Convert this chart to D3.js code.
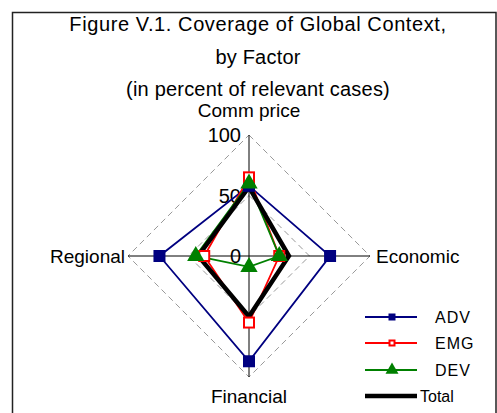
<!DOCTYPE html>
<html>
<head>
<meta charset="utf-8">
<script src="https://cdn.jsdelivr.net/npm/d3@7"></script>
<style>
  body { margin: 0; background: #fff; }
  text { font-family: Arial, "Liberation Sans", sans-serif; fill: #000; }
</style>
</head>
<body>
<svg id="chart" width="497" height="413"></svg>
<script>
// data (percent of relevant cases)
var factors = ["Comm price", "Economic", "Financial", "Regional"];
var adv   = [58, 67, 87, 74];
var emg   = [65, 25, 55, 37];
var dev   = [60, 25,  9, 44];
var total = [57, 33, 50, 42];
var ticks = [0, 50, 100];
var titleLines = ["Figure V.1. Coverage of Global Context,", "by Factor", "(in percent of relevant cases)"];

var svg = d3.select("#chart");
var cx = 249, cy = 256, R = 121;

var r = d3.scaleLinear().domain([0, 100]).range([0, R]);
var ang = d3.scaleLinear().domain([0, factors.length]).range([0, 2 * Math.PI]);

function px(i, v) { return cx + r(v) * Math.sin(ang(i)); }
function py(i, v) { return cy - r(v) * Math.cos(ang(i)); }

// frame
svg.append("rect")
  .attr("x", 12.5).attr("y", 12.5)
  .attr("width", 483.5).attr("height", 430)
  .attr("fill", "none").attr("stroke", "#222").attr("stroke-width", 1.5);

// title
svg.selectAll(".title").data(titleLines).enter().append("text")
  .attr("class", "title")
  .attr("x", 258)
  .attr("y", function(d, i) { return 31 + i * 32.5; })
  .attr("text-anchor", "middle")
  .style("font-size", "20px")
  .style("letter-spacing", function(d, i) { return i == 0 ? "0.6px" : "0.2px"; })
  .text(function(d) { return d; });

// dashed grid rings (50, 100)
var ring = d3.line().x(function(d) { return px(d.i, d.v); }).y(function(d) { return py(d.i, d.v); }).curve(d3.curveLinearClosed);
ticks.filter(function(t) { return t > 0; }).forEach(function(t) {
  svg.append("path")
    .attr("d", ring(factors.map(function(f, i) { return {i: i, v: t}; })))
    .attr("fill", "none").attr("stroke", "#999")
    .attr("stroke-width", 1).attr("stroke-dasharray", "6,4");
});

// axes
factors.forEach(function(f, i) {
  svg.append("line")
    .attr("x1", cx).attr("y1", cy)
    .attr("x2", px(i, 100)).attr("y2", py(i, 100))
    .attr("stroke", "#000").attr("stroke-width", 1);
});

// value tick labels on the vertical axis
svg.selectAll(".tick").data(ticks).enter().append("text")
  .attr("x", cx - 8)
  .attr("y", function(d) { return py(0, d) + 7; })
  .attr("text-anchor", "end")
  .style("font-size", "20px")
  .text(function(d) { return d; });

// category labels
var labPos = [
  {x: cx, y: 117, a: "middle"},
  {x: 376, y: 263, a: "start"},
  {x: cx, y: 403, a: "middle"},
  {x: 125, y: 263, a: "end"}
];
factors.forEach(function(f, i) {
  svg.append("text")
    .attr("x", labPos[i].x).attr("y", labPos[i].y)
    .attr("text-anchor", labPos[i].a)
    .style("font-size", "19px")
    .text(f);
});

var series = [
  {name: "ADV",   values: adv,   color: "#000080", width: 1.8, marker: "filled"},
  {name: "EMG",   values: emg,   color: "#ff0000", width: 1.8, marker: "hollow"},
  {name: "DEV",   values: dev,   color: "#008000", width: 1.8, marker: "triangle"},
  {name: "Total", values: total, color: "#000000", width: 4.5, marker: "none"}
];

// lines first
series.forEach(function(s) {
  svg.append("path")
    .attr("d", ring(s.values.map(function(v, i) { return {i: i, v: v}; })))
    .attr("fill", "none").attr("stroke", s.color)
    .attr("stroke-width", s.width).attr("stroke-linejoin", "miter");
});

function drawMarker(g, s, x, y, size) {
  if (s.marker == "filled") {
    g.append("rect").attr("x", x - size / 2).attr("y", y - size / 2)
      .attr("width", size).attr("height", size).attr("fill", s.color);
  } else if (s.marker == "hollow") {
    g.append("rect").attr("x", x - size / 2 + 1).attr("y", y - size / 2 + 1)
      .attr("width", size - 2).attr("height", size - 2)
      .attr("fill", "#fff").attr("stroke", s.color).attr("stroke-width", 2);
  } else if (s.marker == "triangle") {
    g.append("path")
      .attr("d", d3.symbol().type(d3.symbolTriangle).size(size * size * 0.9)())
      .attr("transform", "translate(" + x + "," + y + ")")
      .attr("fill", s.color);
  }
}

// markers on top
series.forEach(function(s) {
  s.values.forEach(function(v, i) {
    drawMarker(svg, s, px(i, v), py(i, v), 12);
  });
});

// legend
var lx1 = 365, lx2 = 417, ly = [317, 343, 370, 396];
series.forEach(function(s, k) {
  svg.append("line")
    .attr("x1", lx1).attr("x2", lx2).attr("y1", ly[k]).attr("y2", ly[k])
    .attr("stroke", s.color).attr("stroke-width", s.width);
  drawMarker(svg, s, (lx1 + lx2) / 2 + 1, ly[k], s.marker == "triangle" ? 9 : 7);
  svg.append("text")
    .attr("x", s.name == "Total" ? 420 : 435)
    .attr("y", ly[k] + 6)
    .style("font-size", "16px")
    .style("letter-spacing", s.name == "Total" ? "0px" : "1px")
    .text(s.name);
});
</script>
</body>
</html>
